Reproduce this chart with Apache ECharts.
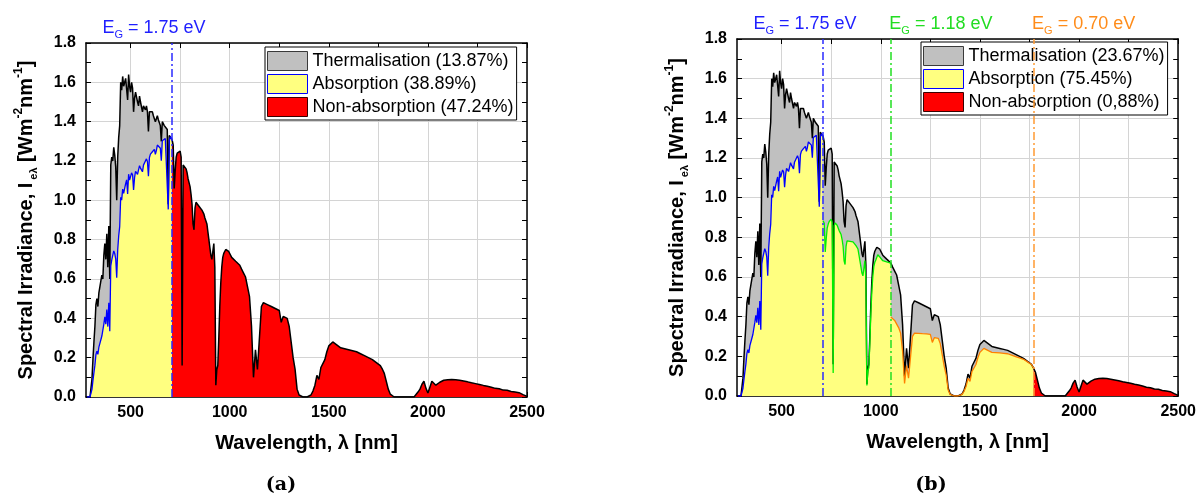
<!DOCTYPE html>
<html>
<head>
<meta charset="utf-8">
<script src="https://cdn.jsdelivr.net/npm/echarts@6/dist/echarts.min.js"></script>
<style>
  html, body { margin: 0; padding: 0; background: #fff; }
  #chart { width: 1199px; height: 495px; }
</style>
</head>
<body>
<div id="chart"></div>
<script>
// AM1.5 global spectrum: 5 nm steps to 1000 nm, 10 nm steps beyond.
// The grid carries the three band-gap wavelengths (709, 1051, 1771 nm).
const wavelengthNm = [
  280,285,290,295,300,305,310,315,320,325,330,335,340,345,350,355,360,365,370,375,
  380,385,390,395,400,405,410,415,420,425,430,435,440,445,450,455,460,465,470,475,
  480,485,490,495,500,505,510,515,520,525,530,535,540,545,550,555,560,565,570,575,
  580,585,590,595,600,605,610,615,620,625,630,635,640,645,650,655,660,665,670,675,
  680,685,690,695,700,705,709,715,720,725,730,735,740,745,750,755,760,765,770,775,
  780,785,790,795,800,805,810,815,820,825,830,835,840,845,850,855,860,865,870,875,
  880,885,890,895,900,905,910,915,920,925,930,935,940,945,950,955,960,965,970,975,
  980,985,990,995,1000,
  1010,1020,1030,1040,1051,1060,1070,1080,1090,1100,
  1110,1120,1130,1140,1150,1160,1170,1180,1190,1200,
  1210,1220,1230,1240,1250,1260,1270,1280,1290,1300,
  1310,1320,1330,1340,1350,1360,1370,1380,1390,1400,
  1410,1420,1430,1440,1450,1460,1470,1480,1490,1500,
  1510,1520,1530,1540,1550,1560,1570,1580,1590,1600,
  1610,1620,1630,1640,1650,1660,1670,1680,1690,1700,
  1710,1720,1730,1740,1750,1760,1771,1780,1790,1800,
  1810,1820,1830,1840,1850,1860,1870,1880,1890,1900,
  1910,1920,1930,1940,1950,1960,1970,1980,1990,2000,
  2010,2020,2030,2040,2050,2060,2070,2080,2090,2100,
  2110,2120,2130,2140,2150,2160,2170,2180,2190,2200,
  2210,2220,2230,2240,2250,2260,2270,2280,2290,2300,
  2310,2320,2330,2340,2350,2360,2370,2380,2390,2400,
  2410,2420,2430,2440,2450,2460,2470,2480,2490,2500
];

// Spectral irradiance [W m^-2 nm^-1] on the grid above
const irradiance = [
  0,0,0,0,0.01,0.09,0.19,0.28,0.36,0.47,0.50,0.46,0.53,0.52,0.59,0.62,0.60,0.72,0.78,0.70,
  0.83,0.66,0.87,0.60,1.18,1.22,1.20,1.27,1.23,1.17,1.00,1.22,1.32,1.38,1.60,1.56,1.63,1.58,1.57,1.62,
  1.63,1.51,1.64,1.58,1.55,1.60,1.57,1.45,1.52,1.55,1.54,1.50,1.48,1.53,1.50,1.49,1.45,1.48,1.47,1.46,
  1.48,1.45,1.35,1.45,1.46,1.44,1.45,1.43,1.44,1.40,1.41,1.43,1.41,1.40,1.38,1.30,1.40,1.39,1.38,1.38,
  1.37,1.36,0.98,1.33,1.34,1.32,1.31,1.28,1.06,1.15,1.22,1.24,1.25,1.24,1.25,1.22,0.16,1.18,1.19,1.17,
  1.16,1.14,1.11,1.10,1.07,1.03,0.98,0.88,0.85,0.96,0.99,0.98,0.99,0.97,0.96,0.97,0.95,0.95,0.93,0.91,
  0.90,0.88,0.84,0.80,0.76,0.72,0.70,0.74,0.78,0.66,0.06,0.14,0.16,0.30,0.46,0.58,0.66,0.71,0.73,0.74,
  0.75,0.76,0.75,0.74,0.73,
  0.71,0.70,0.69,0.68,0.67,0.65,0.63,0.61,0.56,0.51,
  0.36,0.10,0.24,0.14,0.30,0.46,0.48,0.48,0.47,0.47,
  0.46,0.46,0.45,0.44,0.44,0.38,0.41,0.42,0.40,0.36,
  0.28,0.20,0.14,0.04,0.01,0,0,0,0,0,
  0.01,0.03,0.06,0.11,0.09,0.15,0.17,0.19,0.23,0.26,
  0.27,0.28,0.27,0.265,0.26,0.25,0.25,0.245,0.24,0.24,
  0.235,0.235,0.23,0.23,0.225,0.22,0.215,0.21,0.205,0.20,
  0.195,0.19,0.185,0.175,0.17,0.16,0.14,0.12,0.08,0.04,
  0.015,0.005,0,0,0,0,0,0,0,0,
  0,0,0,0.01,0.025,0.04,0.065,0.08,0.045,0.02,
  0.05,0.08,0.09,0.06,0.07,0.075,0.08,0.085,0.087,0.088,
  0.088,0.089,0.089,0.088,0.087,0.085,0.083,0.081,0.079,0.077,
  0.075,0.072,0.070,0.068,0.066,0.064,0.061,0.059,0.057,0.055,
  0.052,0.050,0.046,0.044,0.040,0.042,0.036,0.035,0.031,0.034,
  0.027,0.028,0.024,0.025,0.020,0.022,0.016,0.012,0.006,0.003
];

// Power kept by a 1.75 eV absorber, 280–709 nm
const absorbed175 = [
  0,0,0,0,0.004,0.039,0.083,0.124,0.162,0.215,0.233,0.217,0.254,0.253,0.291,0.310,0.305,0.371,0.407,0.370,
  0.445,0.358,0.479,0.334,0.666,0.697,0.694,0.743,0.729,0.701,0.606,0.749,0.819,0.866,1.015,1.001,1.057,1.036,1.041,1.085,
  1.104,1.033,1.133,1.103,1.093,1.140,1.129,1.053,1.115,1.148,1.151,1.132,1.127,1.176,1.164,1.166,1.145,1.179,1.182,1.184,
  1.211,1.196,1.123,1.217,1.235,1.229,1.247,1.240,1.259,1.234,1.253,1.281,1.273,1.274,1.265,1.201,1.303,1.304,1.304,1.314,
  1.314,1.314,0.954,1.304,1.323,1.312,1.310
];

// Power kept by a 1.18 eV absorber, 709–1051 nm
const absorbed118 = [
  0.884,
  0.871,0.726,0.793,0.847,0.867,0.880,0.879,0.892,0.876,0.116,0.859,0.872,0.863,0.861,0.851,0.834,0.832,0.814,0.789,0.755,
  0.682,0.663,0.754,0.782,0.779,0.791,0.780,0.776,0.789,0.777,0.782,0.770,0.758,0.754,0.741,0.711,0.681,0.651,0.620,0.606,
  0.644,0.683,0.581,0.053,0.125,0.143,0.270,0.416,0.527,0.603,0.652,0.674,0.686,0.699,0.712,0.706,0.701,0.695,
  0.682,0.679,0.676,0.673,0.670
];

// Power kept by a 0.70 eV absorber, 1051–1771 nm
const absorbed070 = [
  0.398,
  0.389,0.381,0.372,0.345,0.317,0.226,0.063,0.153,0.090,0.195,
  0.301,0.317,0.320,0.316,0.318,0.314,0.317,0.313,0.308,0.311,
  0.270,0.294,0.304,0.291,0.264,0.207,0.149,0.105,0.030,0.008,
  0,0,0,0,0,0.008,0.024,0.048,0.089,0.074,
  0.124,0.141,0.159,0.194,0.220,0.230,0.240,0.233,0.230,0.228,
  0.220,0.222,0.219,0.215,0.217,0.214,0.215,0.212,0.213,0.210,
  0.206,0.203,0.199,0.196,0.192,0.188,0.185,0.181,0.172,0.168,0.159,
  0.140
];

const bandgapNm = [709, 1051, 1771];
const bandgapLabels = ['1.75 eV', '1.18 eV', '0.70 eV'];
const legendA = ['Thermalisation (13.87%)', 'Absorption (38.89%)', 'Non-absorption (47.24%)'];
const legendB = ['Thermalisation (23.67%)', 'Absorption (75.45%)', 'Non-absorption (0,88%)'];
const xTickValues = [500, 750, 1000, 1250, 1500, 1750, 2000, 2250, 2500];
const xLabelValues = [500, 1000, 1500, 2000, 2500];

const FONT = '"Liberation Sans", Arial, Helvetica, sans-serif';
const C = {
  gray: '#c0c0c0', yellow: '#ffff80', red: '#ff0000', black: '#000000',
  blue: '#0000ff', green: '#00ee00', orange: '#ff8000',
  blueDash: '#2a2aff', greenDash: '#22e022', orangeDash: '#ff9a33',
  blueText: '#1f1fff', greenText: '#22dd22', orangeText: '#ff8c1a'
};

const toPairs = (xs, ys) => ys.map((y, i) => [xs[i], y]);
const i709 = wavelengthNm.indexOf(bandgapNm[0]);
const i1051 = wavelengthNm.indexOf(bandgapNm[1]);
const i1771 = wavelengthNm.indexOf(bandgapNm[2]);
const spectrum = toPairs(wavelengthNm, irradiance);
const blueCurve = toPairs(wavelengthNm.slice(0, i709 + 1), absorbed175);
const greenCurve = toPairs(wavelengthNm.slice(i709, i1051 + 1), absorbed118);
const orangeCurve = toPairs(wavelengthNm.slice(i1051, i1771 + 1), absorbed070);

function gapMarker(x, label, lineColor, textColor, dx) {
  return {
    silent: true,
    symbol: ['none', 'none'],
    animation: false,
    lineStyle: { color: lineColor, type: [8, 3, 2, 3], width: 1.5, opacity: 1 },
    label: {
      show: true,
      position: 'end',
      distance: 3,
      offset: [dx, 0],
      formatter: '{e|E}{g|G}{t| = ' + label + '}',
      rich: {
        e: { fontSize: 18, lineHeight: 24, color: textColor, fontFamily: FONT },
        g: { fontSize: 11, lineHeight: 11, verticalAlign: 'bottom', color: textColor, fontFamily: FONT },
        t: { fontSize: 18, lineHeight: 24, color: textColor, fontFamily: FONT }
      }
    },
    emphasis: { disabled: true },
    data: [{ xAxis: x }]
  };
}

function area(name, data, lineColor, fillColor, axis, width, extra) {
  return Object.assign({
    name, type: 'line', data,
    xAxisIndex: axis, yAxisIndex: axis,
    showSymbol: false, symbol: 'none', smooth: false, silent: true,
    animation: false,
    lineStyle: { color: lineColor, width },
    itemStyle: { color: fillColor },
    areaStyle: { color: fillColor, opacity: 1 },
    emphasis: { disabled: true }
  }, extra || {});
}

const labelFont = { color: '#000', fontWeight: 'bold', fontSize: 16, fontFamily: FONT };

function xAxes(gridIndex) {
  return [{
    type: 'value', gridIndex, position: 'bottom', min: 275, max: 2500,
    axisLine: { show: true, onZero: false, lineStyle: { color: '#000', width: 1.5 } },
    axisTick: { show: true, inside: true, length: 5, customValues: xTickValues, lineStyle: { color: '#000' } },
    axisLabel: Object.assign({ customValues: xLabelValues, margin: 8, formatter: v => String(v) }, labelFont),
    splitLine: { show: true, lineStyle: { color: '#d4d4d4', width: 1 } },
    name: 'Wavelength, λ [nm]', nameLocation: 'middle', nameGap: 36,
    nameTextStyle: { color: '#000', fontWeight: 'bold', fontSize: 20, fontFamily: FONT }
  }, {
    type: 'value', gridIndex, position: 'top', min: 275, max: 2500,
    axisLine: { show: true, onZero: false, lineStyle: { color: '#000', width: 1.5 } },
    axisTick: { show: true, inside: true, length: 5, customValues: xTickValues, lineStyle: { color: '#000' } },
    axisLabel: { show: false }, splitLine: { show: false }
  }];
}

function yAxes(gridIndex) {
  const common = {
    type: 'value', gridIndex, min: 0, max: 1.8, interval: 0.2,
    axisLine: { show: true, onZero: false, lineStyle: { color: '#000', width: 1.5 } },
    axisTick: { show: true, inside: true, length: 5, lineStyle: { color: '#000' } },
    minorTick: { show: true, splitNumber: 2, length: 5, lineStyle: { color: '#000' } },
    minorSplitLine: { show: false }
  };
  return [Object.assign({}, common, {
    position: 'left',
    axisLabel: Object.assign({ margin: 10, formatter: v => v.toFixed(1) }, labelFont),
    splitLine: { show: true, lineStyle: { color: '#d4d4d4', width: 1 } },
    name: '{m|Spectral Irradiance, I}{s|eλ}{m| [Wm}{p|-2}{m|nm}{p|-1}{m|]}',
    nameLocation: 'middle', nameGap: 47, nameRotate: 90,
    nameTextStyle: {
      rich: {
        m: { fontSize: 20, fontWeight: 'bold', lineHeight: 26, color: '#000', fontFamily: FONT },
        s: { fontSize: 11, fontWeight: 'bold', lineHeight: 11, verticalAlign: 'bottom', color: '#000', fontFamily: FONT, padding: [0, 0, 0, 3] },
        p: { fontSize: 12, fontWeight: 'bold', lineHeight: 12, verticalAlign: 'top', color: '#000', fontFamily: FONT }
      }
    }
  }), Object.assign({}, common, {
    position: 'right', axisLabel: { show: false }, splitLine: { show: false }
  })];
}

function legendFor(names, left, top) {
  return {
    orient: 'vertical', left, top,
    itemWidth: 40, itemHeight: 19, itemGap: 3, itemTextGap: 6,
    padding: [4, 3, 3, 2],
    backgroundColor: '#fff', borderColor: '#000', borderWidth: 1,
    selectedMode: false,
    textStyle: { fontSize: 18, color: '#000', fontFamily: FONT },
    data: [
      { name: names[0], icon: 'rect', itemStyle: { color: C.gray, borderColor: '#3a3a3a', borderWidth: 1 } },
      { name: names[1], icon: 'rect', itemStyle: { color: C.yellow, borderColor: C.blue, borderWidth: 1 } },
      { name: names[2], icon: 'rect', itemStyle: { color: C.red, borderColor: '#3a0000', borderWidth: 1 } }
    ]
  };
}

const option = {
  backgroundColor: '#fff',
  animation: false,
  grid: [
    { left: 86, top: 43, width: 441, height: 354 },
    { left: 737, top: 39, width: 444, height: 357 }
  ],
  xAxis: [...xAxes(0), ...xAxes(1)],
  yAxis: [...yAxes(0), ...yAxes(1)],
  legend: [legendFor(legendA, 265, 47), legendFor(legendB, 921, 42)],
  graphic: [
    { type: 'text', x: 281, y: 485, style: { text: '(a)', align: 'center', verticalAlign: 'middle', font: 'bold 19px "DejaVu Serif", serif', fill: '#000' } },
    { type: 'text', x: 931, y: 485, style: { text: '(b)', align: 'center', verticalAlign: 'middle', font: 'bold 19px "DejaVu Serif", serif', fill: '#000' } }
  ],
  series: [
    // (a) single 1.75 eV absorber
    area(legendA[0], spectrum.slice(0, i709 + 1), C.black, C.gray, 0, 1.5),
    area(legendA[1], blueCurve, C.blue, C.yellow, 0, 1.3, {
      markLine: gapMarker(bandgapNm[0], bandgapLabels[0], C.blueDash, C.blueText, -18)
    }),
    area(legendA[2], spectrum.slice(i709), C.black, C.red, 0, 1.5),

    // (b) 1.75 / 1.18 / 0.70 eV stack
    area(legendB[0], spectrum.slice(0, i1771 + 1), C.black, C.gray, 2, 1.5),
    area(legendB[1], blueCurve, C.blue, C.yellow, 2, 1.3, {
      markLine: gapMarker(bandgapNm[0], bandgapLabels[0], C.blueDash, C.blueText, -18)
    }),
    area(legendB[1], greenCurve, C.green, C.yellow, 2, 1.3, {
      markLine: gapMarker(bandgapNm[1], bandgapLabels[1], C.greenDash, C.greenText, 50)
    }),
    area(legendB[1], orangeCurve, C.orange, C.yellow, 2, 1.3, {
      markLine: gapMarker(bandgapNm[2], bandgapLabels[2], C.orangeDash, C.orangeText, 50)
    }),
    area(legendB[2], spectrum.slice(i1771), C.black, C.red, 2, 1.5)
  ]
};

const chart = echarts.init(document.getElementById('chart'), null, { renderer: 'canvas' });
chart.setOption(option);
</script>
</body>
</html>
